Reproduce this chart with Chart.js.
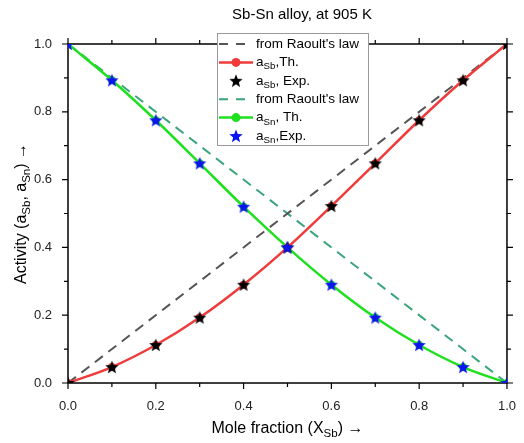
<!DOCTYPE html>
<html>
<head>
<meta charset="utf-8">
<script src="https://cdn.jsdelivr.net/npm/chart.js@4.4.1/dist/chart.umd.min.js"></script>
<style>
  html, body { margin: 0; padding: 0; background: #fff; }
  #wrap { width: 524px; height: 443px; }
</style>
</head>
<body>
<div id="wrap"><canvas id="grafico" width="524" height="443"></canvas></div>
<script>
// Dados
const molFrac = [0, 0.1, 0.2, 0.3, 0.4, 0.5, 0.6, 0.7, 0.8, 0.9, 1.0];
const aSbTh  = [0, 0.047, 0.112, 0.193, 0.290, 0.400, 0.522, 0.648, 0.775, 0.893, 1.0];
const aSbExp = [0, 0.047, 0.112, 0.193, 0.290, 0.400, 0.522, 0.648, 0.775, 0.893, 1.0];
const aSnTh  = [1.0, 0.893, 0.775, 0.648, 0.520, 0.400, 0.290, 0.193, 0.112, 0.047, 0];
const aSnExp = [1.0, 0.893, 0.775, 0.648, 0.520, 0.400, 0.290, 0.193, 0.112, 0.047, 0];
const raoultX = [0, 1];
const raoultSb = [0, 1];
const raoultSn = [1, 0];
const tickVals = [0, 0.2, 0.4, 0.6, 0.8, 1.0];

const FONT = "'Liberation Sans', Arial, sans-serif";

function pts(xs, ys) {
    return xs.map((x, i) => ({ x: x, y: ys[i] }));
}

// estrela cheia para os pontos experimentais
function starImage(color) {
    const c = document.createElement("canvas");
    c.width = 16; c.height = 16;
    const g = c.getContext("2d");
    g.fillStyle = color;
    g.beginPath();
    for (let i = 0; i < 10; i++) {
        const r = i % 2 === 0 ? 7 : 3;
        const a = -Math.PI / 2 + i * Math.PI / 5;
        const px = 8 + r * Math.cos(a), py = 8.5 + r * Math.sin(a);
        if (i === 0) g.moveTo(px, py); else g.lineTo(px, py);
    }
    g.closePath();
    g.fill();
    return c;
}
const starBlack = starImage("#000000");
const starBlue = starImage("#0a14f0");

const RED = "#ef3b3b";
const GREEN = "#1fe01f";
const GRAY_DASH = "#555555";
const GREEN_DASH = "#3aa57a";

// texto com subscrito: [[texto, sub?], ...]
function drawRich(ctx, parts, x, y, size) {
    let cx = x;
    parts.forEach(p => {
        const sub = p[1];
        ctx.font = (sub ? size * 0.72 : size) + "px " + FONT;
        ctx.fillText(p[0], cx, sub ? y + size * 0.32 : y);
        cx += ctx.measureText(p[0]).width;
    });
    return cx - x;
}
function richWidth(ctx, parts, size) {
    let w = 0;
    parts.forEach(p => {
        ctx.font = (p[1] ? size * 0.72 : size) + "px " + FONT;
        w += ctx.measureText(p[0]).width;
    });
    return w;
}

const molduraPlugin = {
    id: "moldura",
    beforeDatasetsDraw(chart) {
        const ctx = chart.ctx;
        const a = chart.chartArea;
        const xs = chart.scales.x, ys = chart.scales.y;
        ctx.save();
        ctx.strokeStyle = "#000";
        ctx.lineWidth = 1.5;
        ctx.strokeRect(a.left, a.top, a.right - a.left, a.bottom - a.top);
        ctx.lineWidth = 1.2;
        // marcas para fora nos quatro lados
        for (let i = 0; i <= 10; i++) {
            const v = i / 10;
            const len = i % 2 === 0 ? 6 : 4;
            const px = xs.getPixelForValue(v);
            const py = ys.getPixelForValue(v);
            ctx.beginPath();
            ctx.moveTo(px, a.bottom); ctx.lineTo(px, a.bottom + len);
            ctx.moveTo(px, a.top); ctx.lineTo(px, a.top - len);
            ctx.moveTo(a.left, py); ctx.lineTo(a.left - len, py);
            ctx.moveTo(a.right, py); ctx.lineTo(a.right + len, py);
            ctx.stroke();
        }
        ctx.restore();
    },
    afterDraw(chart) {
        const ctx = chart.ctx;
        const a = chart.chartArea;
        ctx.save();
        ctx.fillStyle = "#000";
        ctx.textBaseline = "middle";

        // título
        ctx.font = "15px " + FONT;
        ctx.textAlign = "center";
        ctx.fillText("Sb-Sn alloy, at 905 K", 302, 15);
        ctx.textAlign = "left";

        // título do eixo x
        const xt = [["Mole fraction (X"], ["Sb", true], [") \u2192"]];
        const wx = richWidth(ctx, xt, 16);
        drawRich(ctx, xt, (a.left + a.right) / 2 - wx / 2, 429, 16);

        // título do eixo y
        const yt = [["Activity (a"], ["Sb", true], [", a"], ["Sn", true], [") \u2192"]];
        const wy = richWidth(ctx, yt, 16);
        ctx.save();
        ctx.translate(22, (a.top + a.bottom) / 2);
        ctx.rotate(-Math.PI / 2);
        drawRich(ctx, yt, -wy / 2, 0, 16);
        ctx.restore();

        // legenda
        const lx = 217, ly = 33, lw = 151, lh = 112;
        ctx.fillStyle = "#fff";
        ctx.fillRect(lx, ly, lw, lh);
        ctx.strokeStyle = "#9a9a9a";
        ctx.lineWidth = 1;
        ctx.strokeRect(lx + 0.5, ly + 0.5, lw, lh);
        const rows = [
            { kind: "dash", color: GRAY_DASH, text: [["from Raoult's law"]] },
            { kind: "line", color: RED, text: [["a"], ["Sb", true], [",Th."]] },
            { kind: "star", img: starBlack, text: [["a"], ["Sb", true], [", Exp."]] },
            { kind: "dash", color: GREEN_DASH, text: [["from Raoult's law"]] },
            { kind: "line", color: GREEN, text: [["a"], ["Sn", true], [", Th."]] },
            { kind: "star", img: starBlue, text: [["a"], ["Sn", true], [",Exp."]] }
        ];
        rows.forEach((r, i) => {
            const y = ly + 11 + i * 18.4;
            if (r.kind === "dash") {
                ctx.strokeStyle = r.color;
                ctx.lineWidth = 2;
                ctx.setLineDash([9, 8]);
                ctx.beginPath();
                ctx.moveTo(lx + 2, y); ctx.lineTo(lx + 36, y);
                ctx.stroke();
                ctx.setLineDash([]);
            } else if (r.kind === "line") {
                ctx.strokeStyle = r.color;
                ctx.lineWidth = 2.5;
                ctx.beginPath();
                ctx.moveTo(lx + 2, y); ctx.lineTo(lx + 36, y);
                ctx.stroke();
                ctx.fillStyle = r.color;
                ctx.beginPath();
                ctx.arc(lx + 19, y, 4.5, 0, Math.PI * 2);
                ctx.fill();
            } else {
                ctx.drawImage(r.img, lx + 19 - 8, y - 8);
            }
            ctx.fillStyle = "#000";
            drawRich(ctx, r.text, lx + 39, y, 13.5);
        });
        ctx.restore();
    }
};

const ctx = document.getElementById("grafico").getContext("2d");
new Chart(ctx, {
    type: "line",
    data: {
        datasets: [
            {
                label: "from Raoult's law",
                data: pts(raoultX, raoultSb),
                borderColor: GRAY_DASH,
                borderWidth: 2,
                borderDash: [10, 7],
                pointRadius: 0,
                order: 3
            },
            {
                label: "aSb,Th.",
                data: pts(molFrac, aSbTh),
                borderColor: RED,
                backgroundColor: RED,
                borderWidth: 2.5,
                cubicInterpolationMode: "monotone",
                pointRadius: 4,
                pointBorderWidth: 0,
                order: 2
            },
            {
                label: "aSb, Exp.",
                data: pts(molFrac, aSbExp),
                showLine: false,
                pointStyle: starBlack,
                order: 1
            },
            {
                label: "from Raoult's law",
                data: pts(raoultX, raoultSn),
                borderColor: GREEN_DASH,
                borderWidth: 2,
                borderDash: [10, 7],
                pointRadius: 0,
                order: 3
            },
            {
                label: "aSn, Th.",
                data: pts(molFrac, aSnTh),
                borderColor: GREEN,
                backgroundColor: GREEN,
                borderWidth: 2.5,
                cubicInterpolationMode: "monotone",
                pointRadius: 4,
                pointBorderWidth: 0,
                order: 2
            },
            {
                label: "aSn,Exp.",
                data: pts(molFrac, aSnExp),
                showLine: false,
                pointStyle: starBlue,
                order: 0
            }
        ]
    },
    options: {
        responsive: false,
        animation: false,
        layout: { padding: { top: 44, right: 9, left: 0, bottom: 0 } },
        plugins: {
            legend: { display: false },
            tooltip: { enabled: false },
            title: { display: false }
        },
        scales: {
            x: {
                type: "linear",
                min: 0, max: 1,
                afterBuildTicks(scale) { scale.ticks = tickVals.map(v => ({ value: v })); },
                afterFit(scale) { scale.height = 60; },
                grid: { display: false },
                border: { display: false },
                ticks: {
                    color: "#222",
                    font: { family: FONT, size: 13 },
                    padding: 8,
                    maxRotation: 0,
                    callback: v => v.toFixed(1)
                }
            },
            y: {
                type: "linear",
                min: 0, max: 1,
                afterBuildTicks(scale) { scale.ticks = tickVals.map(v => ({ value: v })); },
                afterFit(scale) { scale.width = 68; },
                grid: { display: false },
                border: { display: false },
                ticks: {
                    color: "#222",
                    font: { family: FONT, size: 13 },
                    padding: 8,
                    callback: v => v.toFixed(1)
                }
            }
        }
    },
    plugins: [molduraPlugin]
});
</script>
</body>
</html>
